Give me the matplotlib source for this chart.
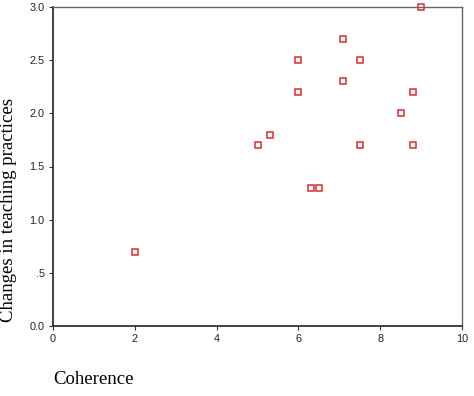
import numpy as np
import matplotlib.pyplot as plt

# data
coherence = [2.0, 5.0, 5.3, 6.0, 6.0, 6.3, 6.5, 7.1, 7.1, 7.5, 7.5, 8.5, 8.8, 8.8, 9.0]
changes = [0.7, 1.7, 1.8, 2.5, 2.2, 1.3, 1.3, 2.7, 2.3, 2.5, 1.7, 2.0, 2.2, 1.7, 3.0]
xticks = [0, 2, 4, 6, 8, 10]
yticks = [0.0, 0.5, 1.0, 1.5, 2.0, 2.5, 3.0]
ytick_labels = ['0.0', '.5', '1.0', '1.5', '2.0', '2.5', '3.0']

fig = plt.figure(figsize=(4.74, 3.96), dpi=100)
ax = fig.add_axes([53/474, 1 - 326/396, (462 - 53)/474, (326 - 7)/396])

ax.plot(coherence, changes, linestyle='none', marker='s', markersize=3.8,
        markerfacecolor='white', markeredgecolor='#e0292f', markeredgewidth=1.1,
        clip_on=False)

ax.set_xlim(0, 10)
ax.set_ylim(0, 3)
ax.set_xticks(xticks)
ax.set_yticks(yticks)
ax.set_yticklabels(ytick_labels)

for s in ['left', 'bottom']:
    ax.spines[s].set_color('#333333')
    ax.spines[s].set_linewidth(1.3)
for s in ['top', 'right']:
    ax.spines[s].set_color('#666666')
    ax.spines[s].set_linewidth(1.0)

ax.tick_params(direction='out', length=3, width=0.8, color='#333333',
               labelsize=7.8, labelcolor='#222222', pad=3)
for lab in ax.get_xticklabels() + ax.get_yticklabels():
    lab.set_family('Liberation Sans')

fig.text(53/474, 1 - 380/396, 'Coherence', family='Liberation Serif',
         fontsize=13.5, ha='left', va='center')
fig.text(9/474, 1 - 210/396, 'Changes in teaching practices', family='Liberation Serif',
         fontsize=13.5, rotation=90, ha='center', va='center')

fig.savefig('out.png', dpi=100)
